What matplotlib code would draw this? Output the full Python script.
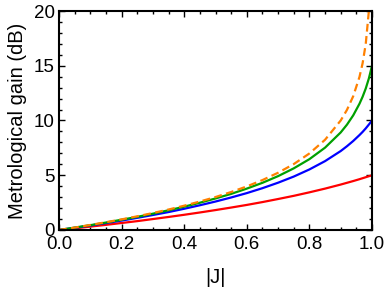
import matplotlib
matplotlib.use("Agg")
import matplotlib.pyplot as plt
from matplotlib.ticker import MultipleLocator

plt.rcParams['font.family'] = ['Liberation Sans', 'DejaVu Sans']

# |J| sample points
J = [0, 0.05, 0.1, 0.15, 0.2, 0.25, 0.3, 0.35, 0.4, 0.45, 0.5, 0.55, 0.6,
     0.65, 0.7, 0.75, 0.8, 0.85, 0.9, 0.92, 0.94, 0.96, 0.97, 0.98, 0.99, 1.0]

# metrological gain in dB
red = [0, 0.15, 0.31, 0.47, 0.64, 0.81, 1.00, 1.19, 1.39, 1.60, 1.82, 2.05,
       2.29, 2.55, 2.83, 3.12, 3.44, 3.78, 4.15, 4.31, 4.47, 4.64, 4.73,
       4.82, 4.91, 5.0]
blue = [0, 0.20, 0.41, 0.63, 0.86, 1.11, 1.37, 1.64, 1.94, 2.26, 2.60, 2.97,
        3.37, 3.82, 4.32, 4.88, 5.53, 6.29, 7.21, 7.65, 8.13, 8.67, 8.96,
        9.28, 9.63, 10.0]
green = [0, 0.22, 0.44, 0.68, 0.94, 1.20, 1.49, 1.80, 2.13, 2.49, 2.88, 3.30,
         3.78, 4.31, 4.92, 5.63, 6.47, 7.52, 8.91, 9.62, 10.47, 11.53, 12.17,
         12.92, 13.84, 15.0]
J_orange = J[:-1]
orange = [0, 0.22, 0.46, 0.71, 0.97, 1.25, 1.55, 1.87, 2.22, 2.60, 3.01, 3.47,
          3.98, 4.56, 5.23, 6.02, 6.99, 8.24, 10.0, 10.97, 12.22, 13.98,
          15.23, 16.99, 20.0]

fig = plt.figure(figsize=(3.87, 2.88), dpi=100)
ax = fig.add_axes([59 / 387, 58 / 288, 313 / 387, 219 / 288])

ax.plot(J, red, color='#ff0000', lw=1.6)
ax.plot(J, blue, color='#0000ff', lw=1.6)
ax.plot(J, green, color='#00a000', lw=1.6)
ax.plot(J_orange, orange, color='#ff8000', lw=1.6, dashes=(3.5, 2))

ax.set_xlim(0, 1)
ax.set_ylim(0, 20)
ax.xaxis.set_major_locator(MultipleLocator(0.2))
ax.xaxis.set_minor_locator(MultipleLocator(0.05))
ax.yaxis.set_major_locator(MultipleLocator(5))
ax.yaxis.set_minor_locator(MultipleLocator(1))
ax.set_xticklabels([f'{v:.1f}' for v in ax.get_xticks()])

ax.tick_params(which='both', direction='in', top=True, right=True,
               labelsize=13.5, width=1.0, color='black')
ax.tick_params(which='major', length=4.5)
ax.tick_params(which='minor', length=2.5)
ax.tick_params(axis='x', pad=4)
ax.tick_params(axis='y', pad=3)
for s in ax.spines.values():
    s.set_linewidth(1.5)

ax.set_xlabel('|J|', fontsize=14.5, labelpad=11)
ax.set_ylabel('Metrological gain (dB)', fontsize=14.5, labelpad=5)

fig.savefig('out.png', dpi=100)
